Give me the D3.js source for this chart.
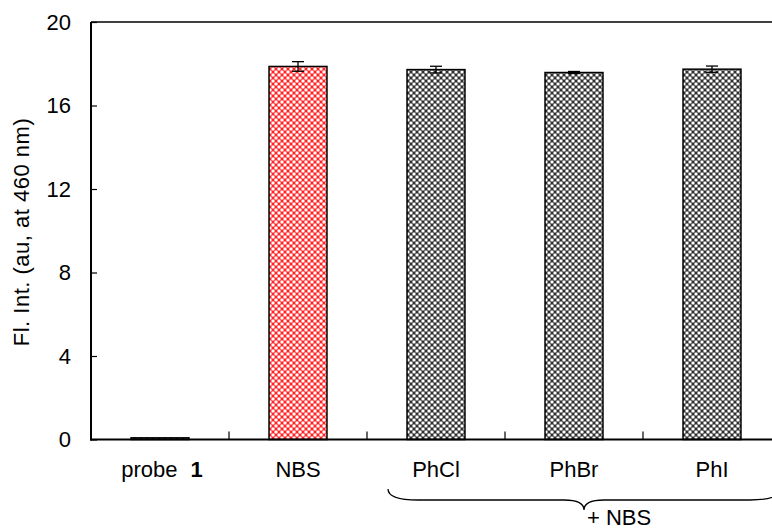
<!DOCTYPE html>
<html>
<head>
<meta charset="utf-8">
<script src="https://cdn.jsdelivr.net/npm/d3@7/dist/d3.min.js"></script>
<style>
  html, body { margin: 0; padding: 0; background: #fff; }
  svg { display: block; font-family: "Liberation Sans", Arial, sans-serif; }
</style>
</head>
<body>
<svg id="chart" width="772" height="531"></svg>
<script>
// Fluorescence intensity at 460 nm for each sample
const categories = ["probe 1", "NBS", "PhCl", "PhBr", "PhI"];
const values = [0.08, 17.87, 17.72, 17.58, 17.74];
const errors = [0.0, 0.23, 0.16, 0.05, 0.15];
const fills = ["grey", "red", "grey", "grey", "grey"];
const yTicks = [0, 4, 8, 12, 16, 20];

const svg = d3.select("#chart");
const margin = { left: 91, top: 22, bottom: 439.5 };
const bandStep = 138;
const fontSize = 22;

const x = d3.scaleBand()
  .domain(categories)
  .range([margin.left, margin.left + bandStep * categories.length])
  .paddingInner(0.58)
  .paddingOuter(0.29);

const y = d3.scaleLinear().domain([0, 20]).range([margin.bottom, margin.top]);

// Hatched fills
const defs = svg.append("defs");
function makePattern(id, bg, ring) {
  const p = defs.append("pattern")
    .attr("id", id)
    .attr("patternUnits", "userSpaceOnUse")
    .attr("width", 6).attr("height", 6);
  p.append("rect").attr("width", 6).attr("height", 6).attr("fill", bg);
  [[0, 0], [6, 0], [0, 6], [6, 6], [3, 3]].forEach(([cx, cy]) => {
    p.append("circle").attr("cx", cx).attr("cy", cy).attr("r", 2.1).attr("fill", ring);
    p.append("circle").attr("cx", cx).attr("cy", cy).attr("r", 1.3).attr("fill", "#fff");
  });
}
makePattern("pat-grey", "#2e2e2e", "#8f8f8f");
makePattern("pat-red", "#ff2020", "#ff9090");

// Bars
const barG = svg.append("g");
categories.forEach((c, i) => {
  barG.append("rect")
    .attr("x", x(c))
    .attr("y", y(values[i]))
    .attr("width", x.bandwidth())
    .attr("height", y(0) - y(values[i]))
    .attr("fill", fills[i] === "red" ? "url(#pat-red)" : "url(#pat-grey)")
    .attr("stroke", "#000")
    .attr("stroke-width", 1.5);
});

// Error bars
const errG = svg.append("g").attr("stroke", "#000").attr("stroke-width", 1.3);
categories.forEach((c, i) => {
  if (errors[i] <= 0) return;
  const cx = x(c) + x.bandwidth() / 2;
  const hi = y(values[i] + errors[i]);
  const lo = y(values[i] - errors[i]);
  errG.append("line").attr("x1", cx).attr("x2", cx).attr("y1", hi).attr("y2", lo);
  errG.append("line").attr("x1", cx - 6).attr("x2", cx + 6).attr("y1", hi).attr("y2", hi);
  errG.append("line").attr("x1", cx - 6).attr("x2", cx + 6).attr("y1", lo).attr("y2", lo);
});

// Y axis with inward ticks
const yAxis = d3.axisLeft(y).tickValues(yTicks).tickSize(-6).tickPadding(20).tickFormat(d3.format("d"));
const yG = svg.append("g").attr("transform", `translate(${margin.left},0)`).call(yAxis);
yG.select(".domain").remove();
yG.selectAll(".tick line").attr("stroke", "#000").attr("stroke-width", 1.2);
yG.selectAll(".tick text").attr("font-size", fontSize).attr("fill", "#000")
  .attr("font-family", "Liberation Sans, Arial, sans-serif");

// Frame: left, top, bottom
const frame = svg.append("g").attr("stroke", "#000").attr("stroke-width", 2).attr("fill", "none");
frame.append("line").attr("x1", margin.left).attr("x2", margin.left).attr("y1", margin.top).attr("y2", margin.bottom + 1);
frame.append("line").attr("x1", margin.left).attr("x2", 772).attr("y1", margin.top).attr("y2", margin.top)
  .attr("stroke-width", 1.4);
frame.append("line").attr("x1", margin.left - 1).attr("x2", 772).attr("y1", margin.bottom).attr("y2", margin.bottom);

// Category separators on the x axis
const sepG = svg.append("g").attr("stroke", "#000").attr("stroke-width", 1.2);
categories.slice(1).forEach(c => {
  const sx = x(c) - x.step() * x.paddingInner() / 2;
  sepG.append("line").attr("x1", sx).attr("x2", sx).attr("y1", margin.bottom - 8).attr("y2", margin.bottom);
});

// Category labels
const labG = svg.append("g").attr("font-size", fontSize).attr("fill", "#000").attr("text-anchor", "middle");
categories.forEach((c, i) => {
  const cx = x(c) + x.bandwidth() / 2;
  const t = labG.append("text").attr("x", cx + (c === "probe 1" ? 2 : 0)).attr("y", 477);
  if (c === "probe 1") {
    t.append("tspan").text("probe");
    t.append("tspan").attr("dx", 13).attr("font-weight", "bold").text("1");
  } else {
    t.text(c);
  }
});

// Brace grouping the halobenzene samples
const bx0 = 388, bx1 = 780, bxm = 584, by0 = 489, by1 = 500, by2 = 510;
const brace = d3.path();
brace.moveTo(bx0, by0);
brace.quadraticCurveTo(bx0, by1, bx0 + 30, by1);
brace.lineTo(bxm - 20, by1);
brace.quadraticCurveTo(bxm, by1, bxm, by2);
brace.quadraticCurveTo(bxm, by1, bxm + 20, by1);
brace.lineTo(bx1 - 30, by1);
brace.quadraticCurveTo(bx1, by1, bx1, by0);
svg.append("path").attr("d", brace.toString()).attr("fill", "none").attr("stroke", "#000").attr("stroke-width", 1.3);

svg.append("text").attr("x", 587).attr("y", 525).attr("font-size", fontSize).attr("fill", "#000").text("+ NBS");

// Y axis title
svg.append("text")
  .attr("transform", "translate(29,232) rotate(-90)")
  .attr("text-anchor", "middle")
  .attr("font-size", fontSize)
  .attr("letter-spacing", 0.5)
  .attr("fill", "#000")
  .text("Fl. Int. (au, at 460 nm)");
</script>
</body>
</html>
